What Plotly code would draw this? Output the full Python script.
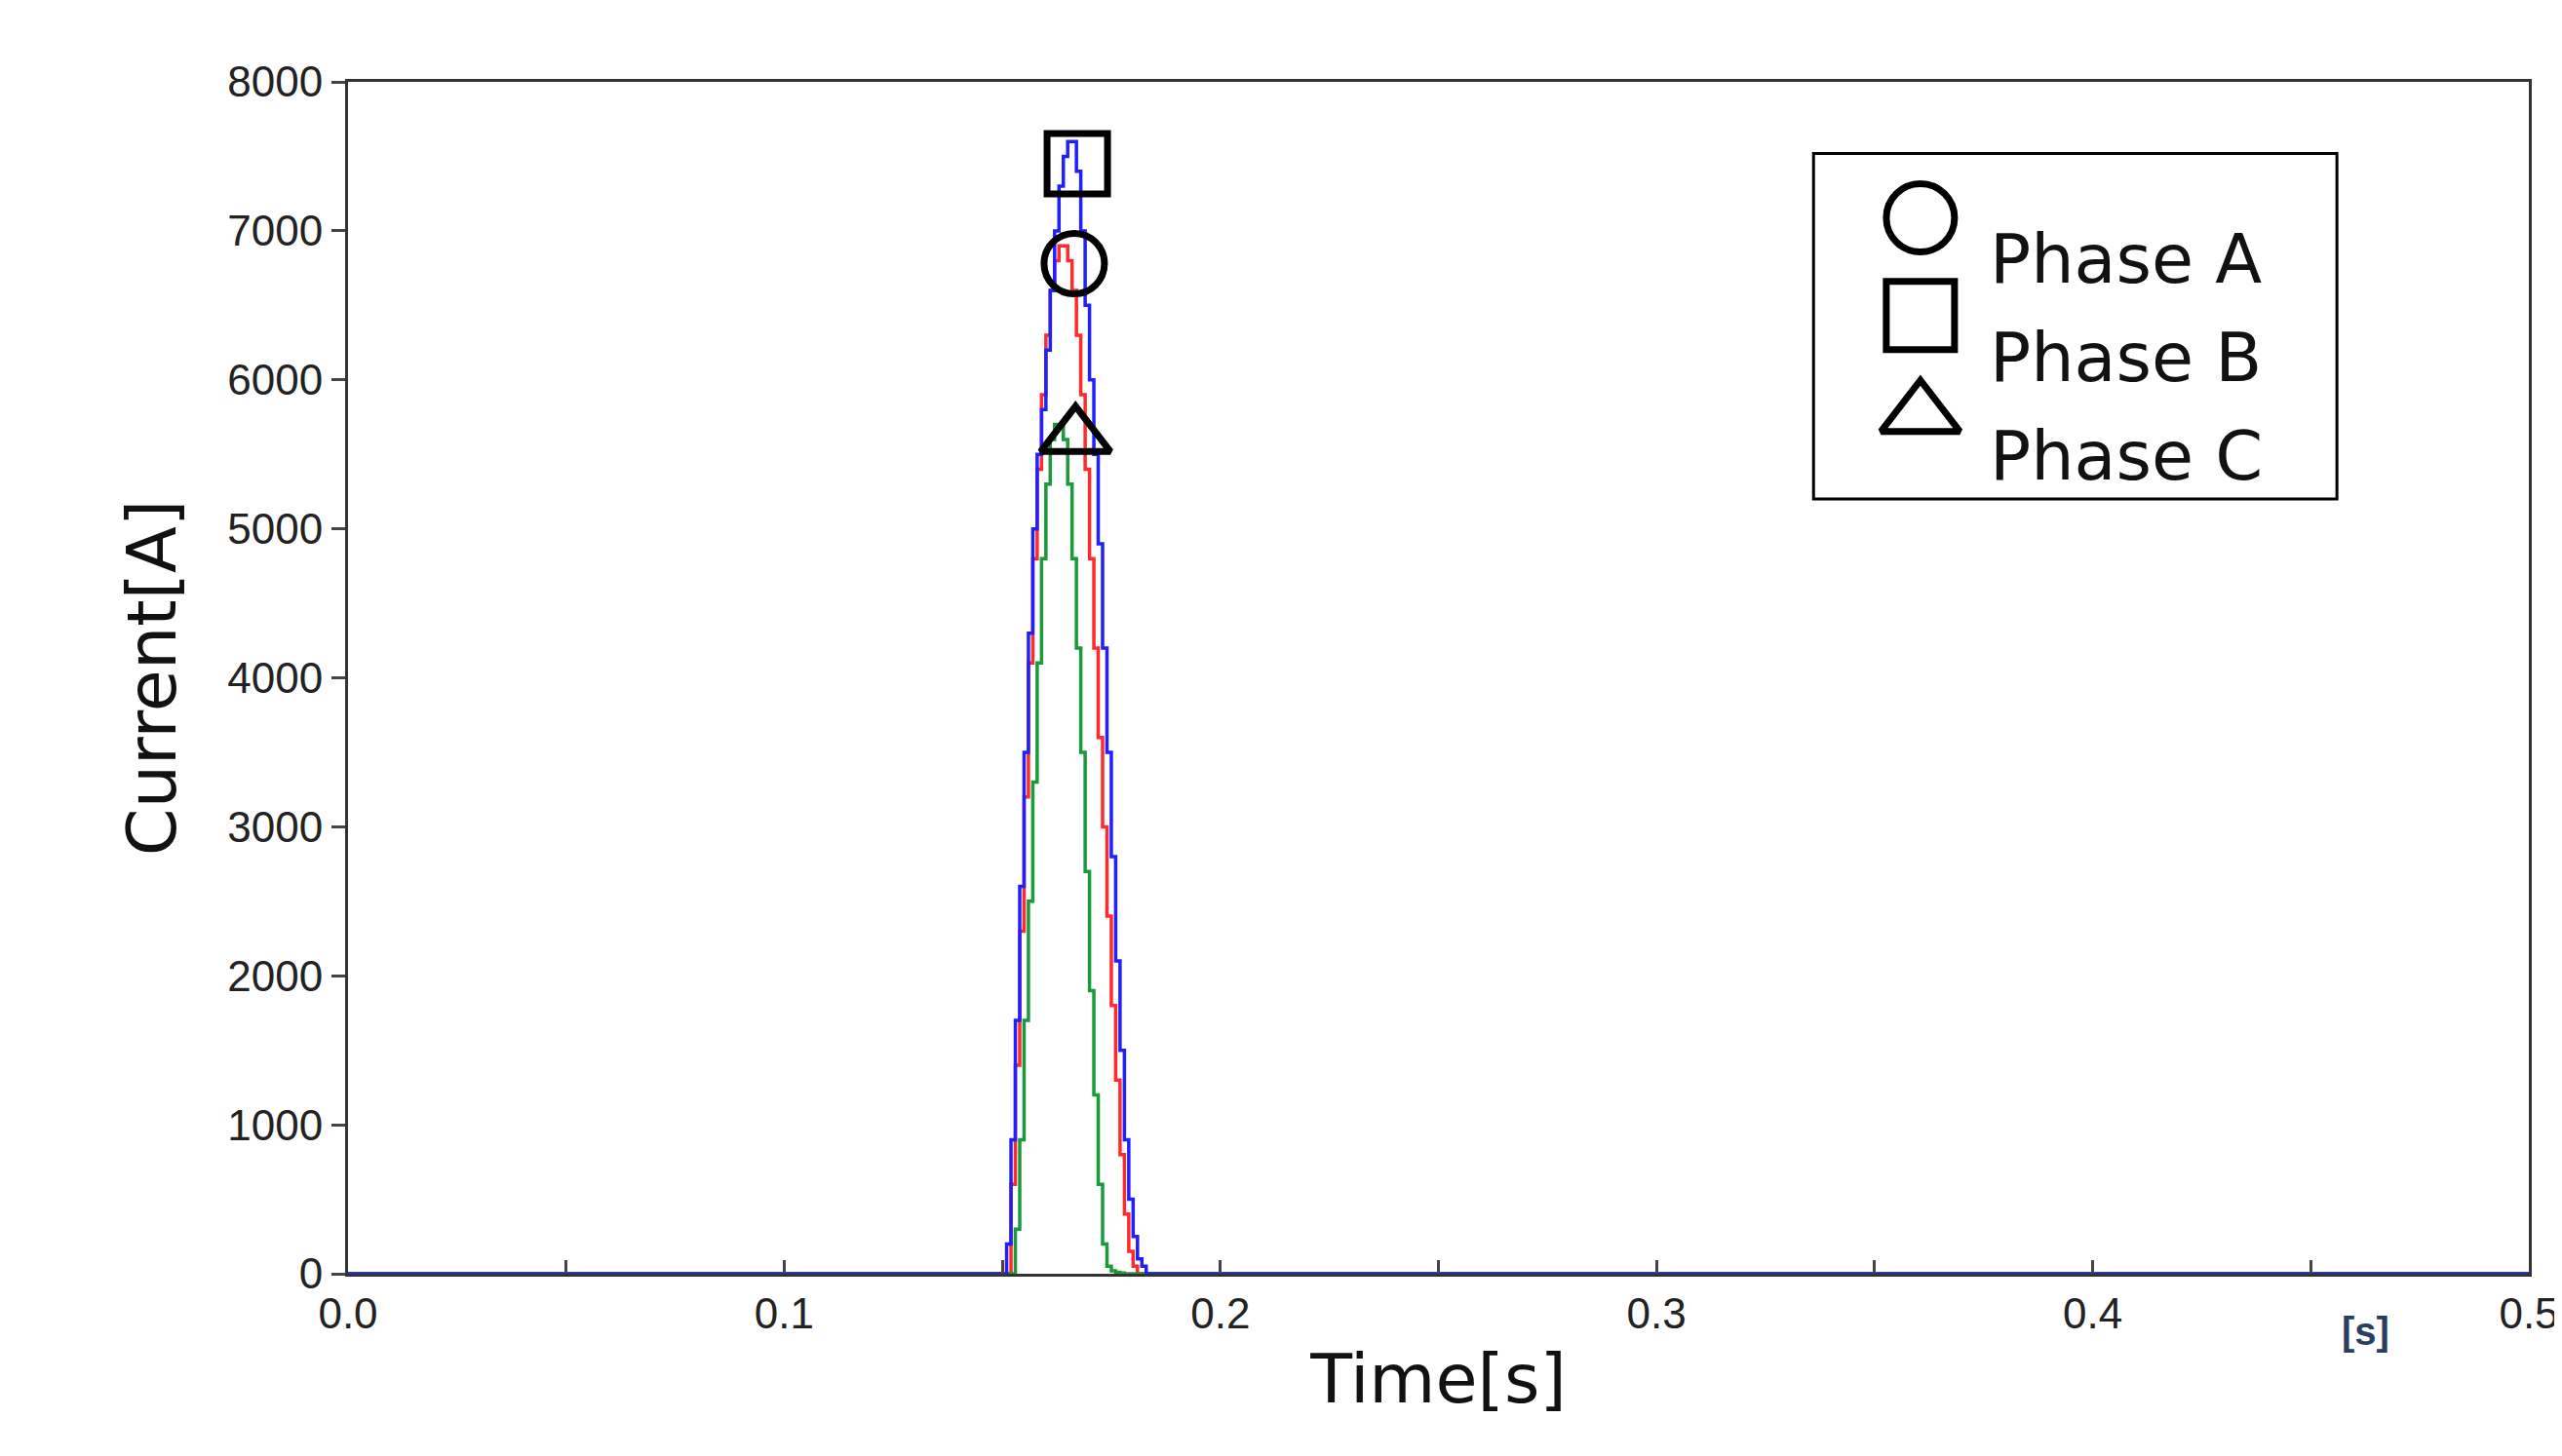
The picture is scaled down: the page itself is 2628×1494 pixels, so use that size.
import plotly.graph_objects as go

t_b = [round(0.150 + 0.001*i, 3) for i in range(34)]
phase_b = [0,200,900,1700,2600,3500,4300,5000,5500,5800,6200,6600,7000,7300,7500,7600,7600,7400,
           7000,6500,6000,5500,4900,4200,3500,2800,2100,1500,900,500,250,100,50,0]
t_a = [round(0.151 + 0.001*i, 3) for i in range(31)]
phase_a = [0,600,1400,2300,3200,4100,4800,5400,5900,6300,6600,6800,6900,6900,6800,6600,6300,5900,
           5400,4800,4200,3600,3000,2400,1800,1300,800,400,150,50,0]
t_c = [round(0.152 + 0.001*i, 3) for i in range(27)]
phase_c = [0,300,900,1700,2500,3300,4100,4800,5300,5600,5700,5700,5600,5300,4800,4200,3500,
           2700,1900,1200,600,200,50,20,10,5,0]

marker_x = [0.1665, 0.1672, 0.1668]
marker_y = [6780, 7450, 5620]
names = ["Phase A", "Phase B", "Phase C"]
symbols = ["circle-open", "square-open", "triangle-up-open"]
legend_y = [0.886, 0.804, 0.721]

def full(t, v):
    return [0.0] + t + [0.5], [0] + v + [0]

fig = go.Figure()
for t, v, c in [(t_a, phase_a, "#ff2a2a"), (t_c, phase_c, "#1a9a3a"), (t_b, phase_b, "#2020ff")]:
    x, y = full(t, v)
    fig.add_trace(go.Scatter(x=x, y=y, mode="lines", line=dict(color=c, width=3.5, shape="hv"),
                             showlegend=False, hoverinfo="skip"))
for i in range(3):
    fig.add_trace(go.Scatter(x=[marker_x[i]], y=[marker_y[i]], mode="markers", showlegend=False,
                             marker=dict(symbol=symbols[i], size=62, color="black",
                                         line=dict(width=7, color="black"))))
    # legend entries on overlay axis
    fig.add_trace(go.Scatter(x=[0.721], y=[legend_y[i]], xaxis="x2", yaxis="y2", mode="markers",
                             showlegend=False, hoverinfo="skip",
                             marker=dict(symbol=symbols[i], size=70, color="black",
                                         line=dict(width=7, color="black"))))
    fig.add_annotation(x=0.752, y=legend_y[i], xref="paper", yref="paper", text=names[i],
                       showarrow=False, xanchor="left", font=dict(size=70, family="DejaVu Sans", color="#111"))

fig.add_shape(type="rect", xref="paper", yref="paper", x0=0.672, x1=0.912, y0=0.65, y1=0.94,
              line=dict(color="black", width=3), fillcolor="rgba(0,0,0,0)", layer="below")

tf = dict(size=44, family="Liberation Sans", color="#222")
fig.update_layout(
    width=2628, height=1494, paper_bgcolor="white", plot_bgcolor="white",
    margin=dict(l=349, r=42, t=76, b=195), showlegend=False,
    xaxis2=dict(overlaying="x", range=[0, 1], visible=False, domain=[0, 1]),
    yaxis2=dict(overlaying="y", range=[0, 1], visible=False),
    xaxis=dict(range=[0, 0.5], tickvals=[0, 0.05, 0.1, 0.15, 0.2, 0.25, 0.3, 0.35, 0.4, 0.45, 0.5],
               ticktext=["0.0", "", "0.1", "", "0.2", "", "0.3", "", "0.4", "", "0.5"],
               ticks="inside", ticklen=14, tickwidth=3, showline=True, linecolor="#333", linewidth=3,
               mirror=True, showgrid=False, zeroline=False, tickfont=tf,
               title=dict(text="Time[s]", font=dict(size=70, family="DejaVu Sans", color="#111"), standoff=20)),
    yaxis=dict(range=[0, 8000], dtick=1000, ticks="outside", ticklen=14, tickwidth=3,
               showline=True, linecolor="#333", linewidth=3, mirror=True, showgrid=False, zeroline=False,
               tickfont=tf,
               title=dict(text="Current[A]", font=dict(size=70, family="DejaVu Sans", color="#111"), standoff=30)),
)
fig.add_annotation(x=0.4625, y=0, yref="paper", yshift=-35, text="<b>[s]</b>", showarrow=False,
                   font=dict(size=40, family="Liberation Sans"), yanchor="top")
fig.write_html("out.html")
